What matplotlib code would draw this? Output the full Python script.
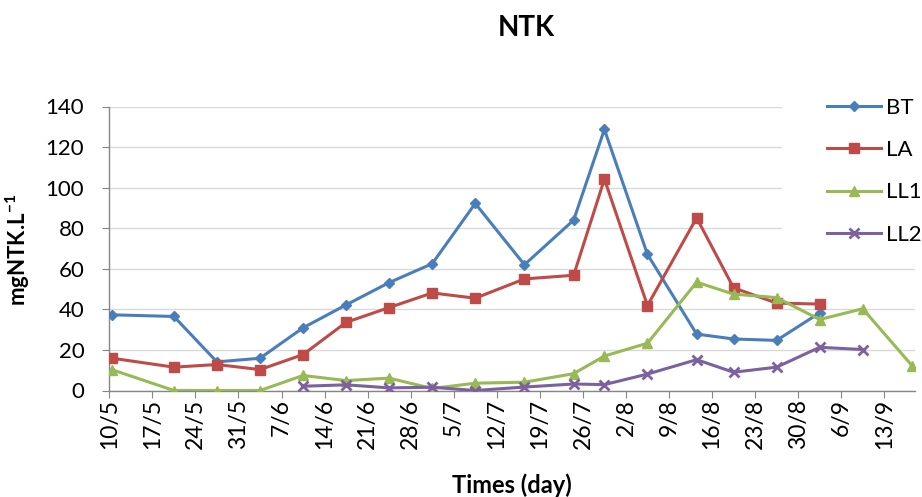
import matplotlib
matplotlib.use("Agg")
import matplotlib.pyplot as plt
import matplotlib.dates as mdates
from matplotlib.patches import Rectangle
from matplotlib.ticker import FuncFormatter
import numpy as np
import pandas as pd

plt.rcParams['font.family'] = ['Lato', 'DejaVu Sans']
plt.rcParams['mathtext.fontset'] = 'custom'
plt.rcParams['mathtext.rm'] = 'Lato'
plt.rcParams['mathtext.bf'] = 'Lato:bold'

# ---- data ----
dates = ["10/5", "20/5", "27/5", "3/6", "10/6", "17/6", "24/6", "1/7", "8/7", "16/7",
         "24/7", "29/7", "5/8", "13/8", "19/8", "26/8", "2/9", "9/9", "17/9"]
BT = [37.3, 36.5, 14.1, 15.9, 30.9, 42.2, 53.2, 62.5, 92.2, 62.0,
      84.0, 128.7, 67.1, 27.8, 25.4, 24.7, 38.3, np.nan, np.nan]
LA = [15.9, 11.5, 12.8, 10.3, 17.7, 33.6, 40.9, 48.1, 45.5, 55.0,
      56.8, 104.2, 41.9, 85.1, 50.6, 43.1, 42.6, np.nan, np.nan]
LL1 = [10.2, 0.0, 0.0, 0.0, 7.4, 4.9, 6.1, 1.0, 3.6, 4.1,
       8.3, 17.0, 23.3, 53.4, 47.5, 45.8, 35.0, 40.3, 12.3]
LL2 = [np.nan, np.nan, np.nan, np.nan, 2.1, 2.8, 1.3, 1.6, 0.0, 1.7,
       3.2, 2.9, 8.1, 15.2, 9.0, 11.5, 21.3, 20.2, np.nan]
series_names = ["BT", "LA", "LL1", "LL2"]
year = 2013
x_start, x_end = "10/5", "18/9"
tick_step_days = 7
yticks = [0, 20, 40, 60, 80, 100, 120, 140]

def to_date(s):
    d, m = s.split("/")
    return pd.Timestamp(year=year, month=int(m), day=int(d))

xd = [to_date(s) + pd.Timedelta(hours=12) for s in dates]  # centred within day

W, H = 922, 497
fig = plt.figure(figsize=(W / 100, H / 100), dpi=100)
left, right, top, bottom = 109.3, 915, 106.5, 390.5
ax = fig.add_axes([left / W, 1 - bottom / H, (right - left) / W, (bottom - top) / H])

colors = ["#4A7EBB", "#BE4B48", "#98B954", "#7D60A0"]
styles = [dict(marker="D", ms=5.5), dict(marker="s", ms=7),
          dict(marker="^", ms=7.5), dict(marker="x", ms=6.5, mew=2)]
handles = []
for vals, name, c, st in zip([BT, LA, LL1, LL2], series_names, colors, styles):
    h, = ax.plot(xd, vals, color=c, lw=2.2, label=name, zorder=3, **st)
    handles.append(h)

ax.set_xlim(to_date(x_start), to_date(x_end))
ax.set_ylim(0, 140)
ax.set_yticks(yticks)
ticks = pd.date_range(to_date(x_start), to_date("13/9"), freq=f"{tick_step_days}D")
ax.set_xticks(ticks)
ax.xaxis.set_major_formatter(FuncFormatter(
    lambda v, p: f"{mdates.num2date(v).day}/{mdates.num2date(v).month}"))

ax.grid(axis="y", color="#D9D9D9", lw=1)
ax.set_axisbelow(True)
for s in ["top", "right"]:
    ax.spines[s].set_visible(False)
for s in ["left", "bottom"]:
    ax.spines[s].set_color("#868686")
    ax.spines[s].set_linewidth(1)
ax.tick_params(axis="y", direction="out", length=5, color="#868686", pad=13,
               labelsize=16, labelcolor="black")
ax.tick_params(axis="x", direction="out", length=5, color="#868686", pad=1,
               labelsize=16.5, labelcolor="black", labelrotation=90)

# white box behind legend
fig.patches.append(Rectangle((782 / W, 1 - 250 / H), 140 / W, 160 / H,
                             transform=fig.transFigure, facecolor="white",
                             edgecolor="none", zorder=5))
leg = fig.legend(handles, series_names, loc="upper left",
                 bbox_to_anchor=(827 / W, 1 - 98 / H), frameon=False,
                 fontsize=16, handlelength=2.43, handletextpad=0.23,
                 labelspacing=1.0, borderpad=0, borderaxespad=0)
leg.set_zorder(6)

fig.text(526.7 / W, 1 - 27.5 / H, "NTK", ha="center", va="center",
         fontsize=20, fontweight="bold")
fig.text(511.5 / W, 1 - 485.5 / H, "Times (day)", ha="center", va="center",
         fontsize=17, fontweight="bold")
fig.text(18 / W, 1 - 250 / H, r"mgNTK.L$^{\mathbf{-1}}$", ha="center", va="center",
         rotation=90, fontsize=16, fontweight="bold")

fig.savefig("out.png", dpi=100)
